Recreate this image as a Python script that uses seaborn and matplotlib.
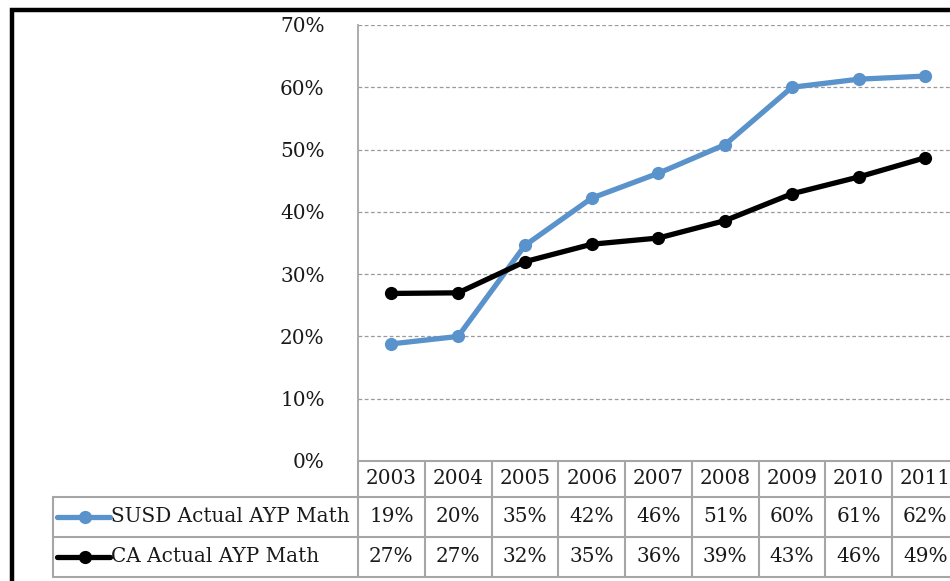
#!usr/bin/env python3
import numpy as np
import pandas as pd
import seaborn as sns
import matplotlib.pyplot as plt
from matplotlib.patches import Rectangle
from matplotlib.ticker import PercentFormatter
from matplotlib.transforms import blended_transform_factory

years = [2003, 2004, 2005, 2006, 2007, 2008, 2009, 2010, 2011]
susd_math = [18.8, 20.0, 34.6, 42.2, 46.2, 50.8, 60.0, 61.3, 61.8]
ca_math = [26.9, 27.0, 32.0, 34.8, 35.8, 38.6, 42.9, 45.6, 48.7]
series_names = ["SUSD Actual AYP Math", "CA Actual AYP Math"]
series_colors = ["#5A93CB", "#000000"]

GRID = "#A6A6A6"
FONT = ["DejaVu Serif"]
FS = 14.4


def main():
    sns.set_style("white")
    plt.rcParams["font.family"] = FONT

    df = pd.DataFrame({
        "year": years * 2,
        "value": np.array(susd_math + ca_math) / 100,
        "series": [series_names[0]] * len(years) + [series_names[1]] * len(years),
    })

    W, H = 950, 581
    fig = plt.figure(figsize=(W / 100, H / 100), dpi=100)
    ax_w_px, ax_h_px = 9 * 66.75, 436
    ax = fig.add_axes([358 / W, 120 / H, ax_w_px / W, ax_h_px / H])

    sns.lineplot(data=df, x="year", y="value", hue="series", hue_order=series_names,
                 palette=series_colors, marker="o", markersize=9.5, markeredgewidth=0,
                 linewidth=3.8, legend=False, ax=ax, zorder=3)

    ax.set_xlim(years[0] - 0.5, years[-1] + 0.5)
    ax.set_ylim(0, 0.7)
    ax.set_yticks(np.arange(0, 0.71, 0.1))
    ax.yaxis.set_major_formatter(PercentFormatter(1.0, decimals=0))
    ax.tick_params(axis="y", length=0, pad=24, labelsize=FS, labelcolor="#1a1a1a")
    ax.set_xticks([])
    ax.set_xlabel("")
    ax.set_ylabel("")
    for y in np.arange(0.1, 0.71, 0.1):
        ax.axhline(y, color="#9A9A9A", lw=0.9, ls=(0, (3, 2)), zorder=1)
    for s in ["top", "right", "bottom"]:
        ax.spines[s].set_visible(False)
    ax.spines["left"].set_color(GRID)
    ax.spines["left"].set_linewidth(1.3)

    # data table under the plot
    tr = blended_transform_factory(ax.transData, ax.transAxes)
    px_year = ax_w_px / len(years)
    x0 = years[0] - 0.5
    x1 = years[-1] + 0.5
    lab_left = x0 - 305 / px_year
    rows = [0, -36 / ax_h_px, -76 / ax_h_px, -116 / ax_h_px]
    kw = dict(transform=tr, color=GRID, lw=1.5, clip_on=False)

    ax.plot([x0, x1 + 1], [rows[0]] * 2, **kw)
    for r in rows[1:]:
        ax.plot([lab_left, x1 + 1], [r, r], **kw)
    for i in range(len(years) + 1):
        ax.plot([x0 + i] * 2, [rows[0], rows[3]], **kw)
    ax.plot([lab_left] * 2, [rows[1], rows[3]], **kw)

    for yr in years:
        ax.text(yr, (rows[0] + rows[1]) / 2, str(yr), transform=tr, ha="center",
                va="center", fontsize=FS, color="#1a1a1a")

    for k, (name, vals, col) in enumerate(zip(series_names, [susd_math, ca_math], series_colors)):
        yc = (rows[k + 1] + rows[k + 2]) / 2
        for yr, v in zip(years, vals):
            ax.text(yr, yc, f"{round(v):.0f}%", transform=tr, ha="center",
                    va="center", fontsize=FS, color="#1a1a1a")
        lx = lab_left + 4 / px_year
        ax.plot([lx, lx + 53 / px_year], [yc, yc], transform=tr, color=col,
                lw=3.8, clip_on=False)
        ax.plot([lx + 28 / px_year], [yc], transform=tr, color=col, marker="o",
                markersize=9.5, markeredgewidth=0, clip_on=False)
        ax.text(lx + 54 / px_year, yc, name, transform=tr, ha="left", va="center",
                fontsize=FS, color="#1a1a1a")

    # thick frame around the chart area
    fig.patches.append(Rectangle((12 / W, -0.1), 2, (H - 10) / H + 0.1,
                                 transform=fig.transFigure, fill=False,
                                 ec="black", lw=3.2))

    fig.savefig("out.png", dpi=100)


if __name__ == "__main__": main()
